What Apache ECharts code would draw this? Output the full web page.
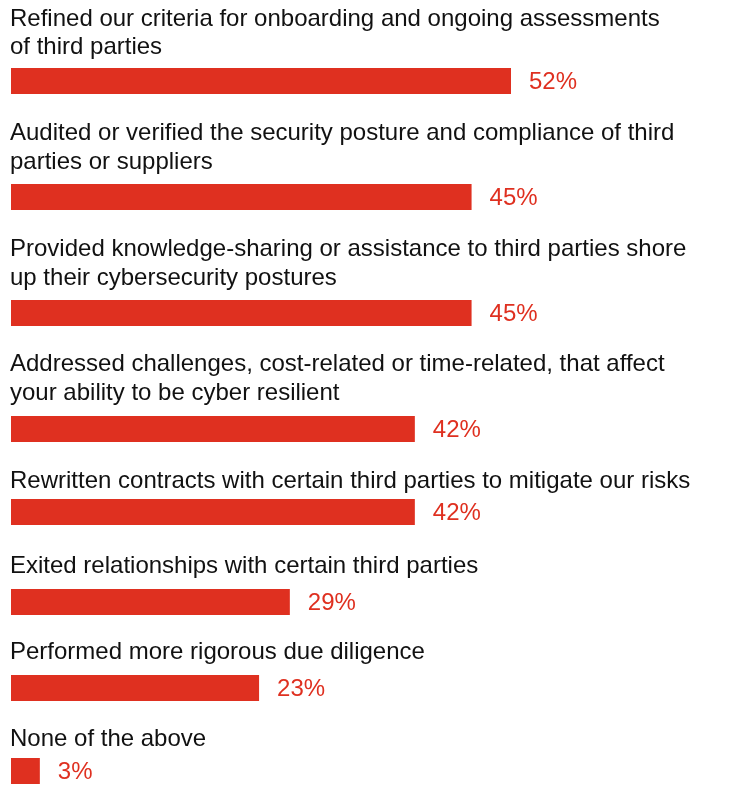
<!DOCTYPE html>
<html>
<head>
<meta charset="utf-8">
<script src="https://cdn.jsdelivr.net/npm/echarts@6/dist/echarts.min.js"></script>
<style>html,body{margin:0;padding:0;background:#fff}#c{width:735px;height:786px}</style>
</head>
<body>
<div id="c"></div>
<script>
const categories = [
  'Refined our criteria for onboarding and ongoing assessments\nof third parties',
  'Audited or verified the security posture and compliance of third\nparties or suppliers',
  'Provided knowledge-sharing or assistance to third parties shore\nup their cybersecurity postures',
  'Addressed challenges, cost-related or time-related, that affect\nyour ability to be cyber resilient',
  'Rewritten contracts with certain third parties to mitigate our risks',
  'Exited relationships with certain third parties',
  'Performed more rigorous due diligence',
  'None of the above'
];
// bar lengths as drawn in the picture (percent)
const values = [52, 47.9, 47.9, 42, 42, 29, 25.8, 3];
// printed value labels
const valueLabels = ['52%', '45%', '45%', '42%', '42%', '29%', '23%', '3%'];

// layout (pixels)
const barTops = [68, 184, 300, 416, 499, 589, 675, 758];
const textTops = [5, 119.7, 235.7, 350.7, 467, 552.3, 638, 725];
const BAR_H = 26, LEFT = 11, PX_PER_UNIT = 500 / 52, XMAX = 70;
const RED = '#df3020';
const FONT = "'Liberation Sans', Arial, sans-serif";

const chart = echarts.init(document.getElementById('c'));
const option = {
  backgroundColor: '#ffffff',
  animation: false,
  title: [], grid: [], xAxis: [], yAxis: [], series: []
};
categories.forEach((cat, i) => {
  option.title.push({
    text: cat, left: 10, top: textTops[i], padding: 0,
    textStyle: { fontFamily: FONT, fontSize: 24, fontWeight: 'normal', color: '#111111', lineHeight: 28.3 }
  });
  option.grid.push({ left: LEFT, top: barTops[i], width: XMAX * PX_PER_UNIT, height: BAR_H, containLabel: false });
  option.xAxis.push({ type: 'value', gridIndex: i, min: 0, max: XMAX, show: false });
  option.yAxis.push({ type: 'category', gridIndex: i, data: [cat], show: false });
  option.series.push({
    type: 'bar', xAxisIndex: i, yAxisIndex: i, data: [values[i]], barWidth: BAR_H,
    itemStyle: { color: RED },
    label: {
      show: true, position: 'right', distance: 18, offset: [0, 1],
      formatter: () => valueLabels[i],
      fontFamily: FONT, fontSize: 24, color: RED
    },
    silent: true
  });
});
chart.setOption(option);
</script>
</body>
</html>
